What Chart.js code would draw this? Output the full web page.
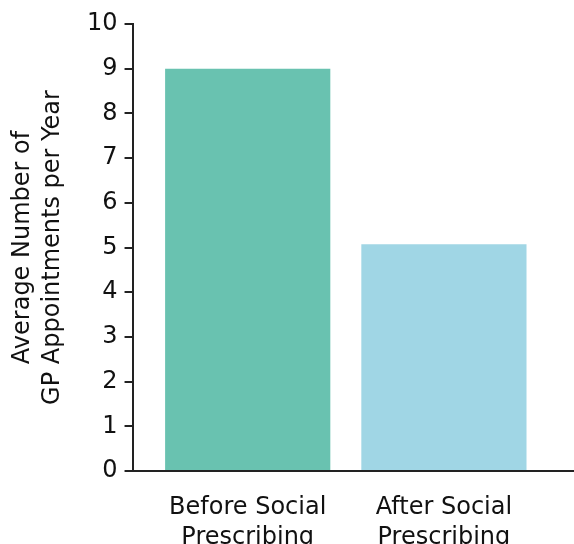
<!DOCTYPE html>
<html>
<head>
<meta charset="utf-8">
<script src="https://cdn.jsdelivr.net/npm/chart.js@4"></script>
<style>
  html, body { margin: 0; padding: 0; background: #fff; overflow: hidden; }
</style>
</head>
<body>
<canvas id="barras" width="574" height="575"></canvas>
<script>
const categories = [['Before Social', 'Prescribing'], ['After Social', 'Prescribing']];
const appointments = [9, 5.07];
const barColors = ['#69c2b0', '#a0d6e5'];
const yTitle = ['Average Number of', 'GP Appointments per Year'];

const fontFamily = "'DejaVu Sans', Verdana, sans-serif";

loadBarChart();

function loadBarChart() {
    const barras = new Chart(
        document.getElementById('barras'), {
            type: 'bar',
            data: {
                datasets: [{
                    data: appointments.map((v, i) => ({ x: i, y: v })),
                    backgroundColor: barColors,
                    categoryPercentage: 1,
                    barPercentage: 0.842
                }]
            },
            options: {
                responsive: false,
                devicePixelRatio: 1,
                animation: false,
                layout: { padding: { left: 0, right: 0, top: 24, bottom: 0 } },
                plugins: {
                    legend: { display: false },
                    tooltip: { enabled: false }
                },
                scales: {
                    x: {
                        type: 'linear',
                        offset: false,
                        min: -0.587,
                        max: 1.663,
                        afterBuildTicks: scale => {
                            scale.ticks = categories.map((c, i) => ({ value: i }));
                        },
                        ticks: {
                            autoSkip: false,
                            maxRotation: 0,
                            padding: 22,
                            color: '#111',
                            font: { family: fontFamily, size: 24, lineHeight: 1.25 },
                            callback: (value) => categories[value]
                        },
                        grid: { display: false, drawTicks: false, offset: false },
                        border: { display: true, color: '#222', width: 2 }
                    },
                    y: {
                        min: 0,
                        max: 10,
                        ticks: {
                            stepSize: 1,
                            padding: 7,
                            color: '#111',
                            font: { family: fontFamily, size: 24 }
                        },
                        grid: { drawOnChartArea: false, drawTicks: true, tickLength: 8, color: '#222', lineWidth: 2 },
                        border: { display: true, color: '#222', width: 2 },
                        title: {
                            display: true,
                            text: yTitle,
                            color: '#111',
                            font: { family: fontFamily, size: 24, lineHeight: 1.25 },
                            padding: { top: 8, bottom: 12 }
                        }
                    }
                }
            }
        }
    );
}
</script>
</body>
</html>
